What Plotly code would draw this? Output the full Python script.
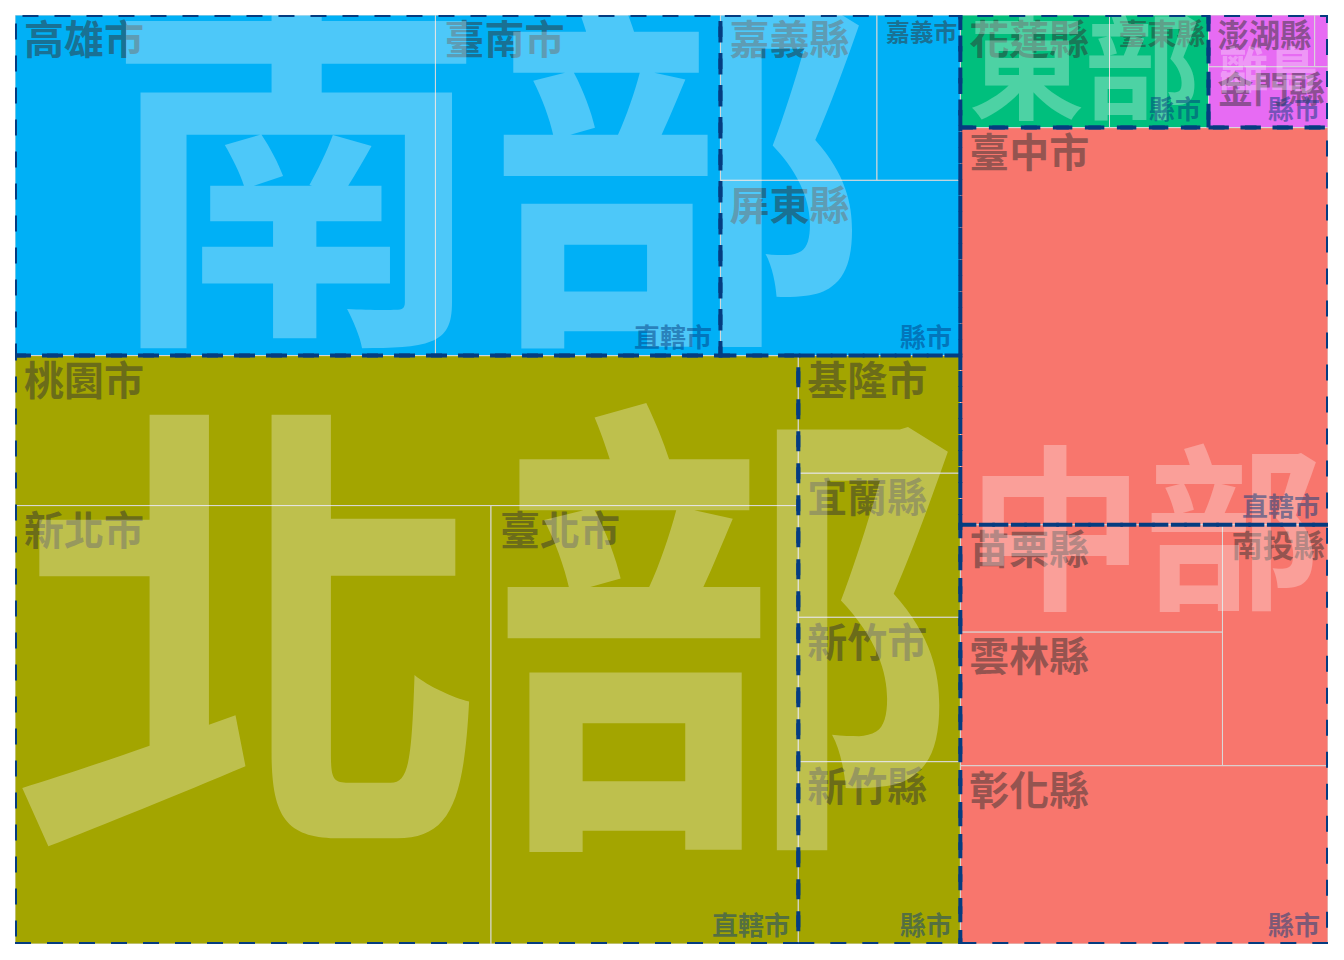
import plotly.graph_objects as go

# population by county / city (approx.)
cities = ["新北市", "臺中市", "高雄市", "臺北市", "桃園市", "臺南市", "彰化縣", "屏東縣",
          "雲林縣", "新竹縣", "苗栗縣", "嘉義縣", "南投縣", "新竹市", "宜蘭縣", "基隆市",
          "花蓮縣", "嘉義市", "臺東縣", "金門縣", "澎湖縣", "連江縣"]
population = [4030954, 2820787, 2765932, 2602418, 2268807, 1874917, 1266670, 812658,
              676873, 570775, 542590, 499481, 490832, 452000, 451000, 367577,
              324372, 266005, 215261, 140597, 105952, 13279]
regions = ["北部", "中部", "南部", "北部", "北部", "南部", "中部", "南部",
           "中部", "北部", "中部", "南部", "中部", "北部", "北部", "北部",
           "東部", "南部", "東部", "離島", "離島", "離島"]
types = ["直轄市", "直轄市", "直轄市", "直轄市", "直轄市", "直轄市", "縣市", "縣市",
         "縣市", "縣市", "縣市", "縣市", "縣市", "縣市", "縣市", "縣市",
         "縣市", "縣市", "縣市", "縣市", "縣市", "縣市"]
region_colors = {"中部": "#F8766D", "北部": "#A3A500", "東部": "#00BF7D",
                 "南部": "#00B0F6", "離島": "#E76BF3"}

# page body has an 8px margin, so the figure is a bit smaller than the window
W, H = 1328, 944
ML, MR, MT, MB = 7, 8, 7, 8
PW, PH = W - ML - MR, H - MT - MB


def worst(row, side):
    s = sum(row)
    return max(max(side * side * r / (s * s), s * s / (side * side * r)) for r in row)


def squarify(items, x0, y0, w, h):
    # squarified layout, starting bottom-left (like treemapify)
    items = sorted(items, key=lambda t: -t[1])
    total = sum(v for _, v in items)
    areas = [(k, v / total * w * h) for k, v in items]
    out = {}
    i = 0
    while i < len(areas):
        side = h if w >= h else w
        row = [areas[i]]
        j = i + 1
        while j < len(areas) and worst([a for _, a in row] + [areas[j][1]], side) <= worst([a for _, a in row], side):
            row.append(areas[j])
            j += 1
        s = sum(a for _, a in row)
        t = s / side
        pos = 0
        for k, a in row:
            l = a / t
            if w >= h:
                out[k] = (x0, y0 + pos, x0 + t, y0 + pos + l)
            else:
                out[k] = (x0 + pos, y0, x0 + pos + l, y0 + t)
            pos += l
        if w >= h:
            x0 += t
            w -= t
        else:
            y0 += t
            h -= t
        i = j
    return out


reg_tot = {}
for r, p in zip(regions, population):
    reg_tot[r] = reg_tot.get(r, 0) + p
reg_rects = squarify(list(reg_tot.items()), 0, 0, 1, 1)

sub_rects = {}
tile_rects = {}
for r, rr in reg_rects.items():
    st = {}
    for rg, tp, p in zip(regions, types, population):
        if rg == r:
            st[tp] = st.get(tp, 0) + p
    sr = squarify(list(st.items()), rr[0], rr[1], rr[2] - rr[0], rr[3] - rr[1])
    for tp, s in sr.items():
        sub_rects[(r, tp)] = s
        its = [(c, p) for c, rg, t2, p in zip(cities, regions, types, population) if rg == r and t2 == tp]
        tile_rects.update(squarify(its, s[0], s[1], s[2] - s[0], s[3] - s[1]))

fig = go.Figure()
shapes = []
annotations = []
FONT = "Noto Sans CJK TC"
NAVY = "#053c80"

# tiles
cx, cy, ct, cs = [], [], [], []
for c, rg in zip(cities, regions):
    x0, y0, x1, y1 = tile_rects[c]
    shapes.append(dict(type="rect", xref="x", yref="y", x0=x0, y0=y0, x1=x1, y1=y1, layer="below",
                       fillcolor=region_colors[rg], line=dict(color="#d9d9d9", width=1)))
    wpx = (x1 - x0) * PW
    fs = min(40, (wpx - 12) / len(c))
    if fs >= 8:
        cx.append(x0 + 9 / PW)
        cy.append(y1 - (7 + 0.56 * fs) / PH)
        ct.append(c)
        cs.append(fs)

fig.add_trace(go.Scatter(x=cx, y=cy, text=ct, mode="text", textposition="middle right",
                         textfont=dict(family=FONT, size=cs, color="rgba(51,51,51,0.5)", weight="bold"),
                         hoverinfo="skip", cliponaxis=True))

# region labels
rx, ry, rt, rs = [], [], [], []
for r, (x0, y0, x1, y1) in reg_rects.items():
    wpx = (x1 - x0) * PW
    hpx = (y1 - y0) * PH
    fs = min((wpx - 24) / 1.94, hpx * 1.125)
    rx.append((x0 + x1) / 2)
    ry.append((y0 + y1) / 2 - 0.088 * fs / PH)
    rt.append(r)
    rs.append(fs)

fig.add_trace(go.Scatter(x=rx, y=ry, text=rt, mode="text", textposition="middle center",
                         textfont=dict(family=FONT, size=rs, color="rgba(255,255,255,0.3)", weight="bold"),
                         hoverinfo="skip", cliponaxis=True))

# subgroup borders and labels
for (r, tp), (x0, y0, x1, y1) in sub_rects.items():
    shapes.append(dict(type="rect", xref="x", yref="y", x0=x0, y0=y0, x1=x1, y1=y1, layer="above",
                       fillcolor="rgba(0,0,0,0)", line=dict(color=NAVY, width=4, dash="16px,16px")))
    annotations.append(dict(x=x1, y=y0, xref="x", yref="y", text=tp, showarrow=False,
                            xanchor="right", yanchor="bottom", xshift=-6, yshift=0,
                            font=dict(family=FONT, size=26, color="rgba(5,60,128,0.5)", weight="bold")))

fig.update_layout(
    width=W, height=H, autosize=False,
    margin=dict(l=ML, r=MR, t=MT, b=MB),
    paper_bgcolor="white", plot_bgcolor="white",
    xaxis=dict(range=[0, 1], visible=False, fixedrange=True),
    yaxis=dict(range=[0, 1], visible=False, fixedrange=True),
    shapes=shapes, annotations=annotations, showlegend=False,
)
fig.write_html("out.html")
